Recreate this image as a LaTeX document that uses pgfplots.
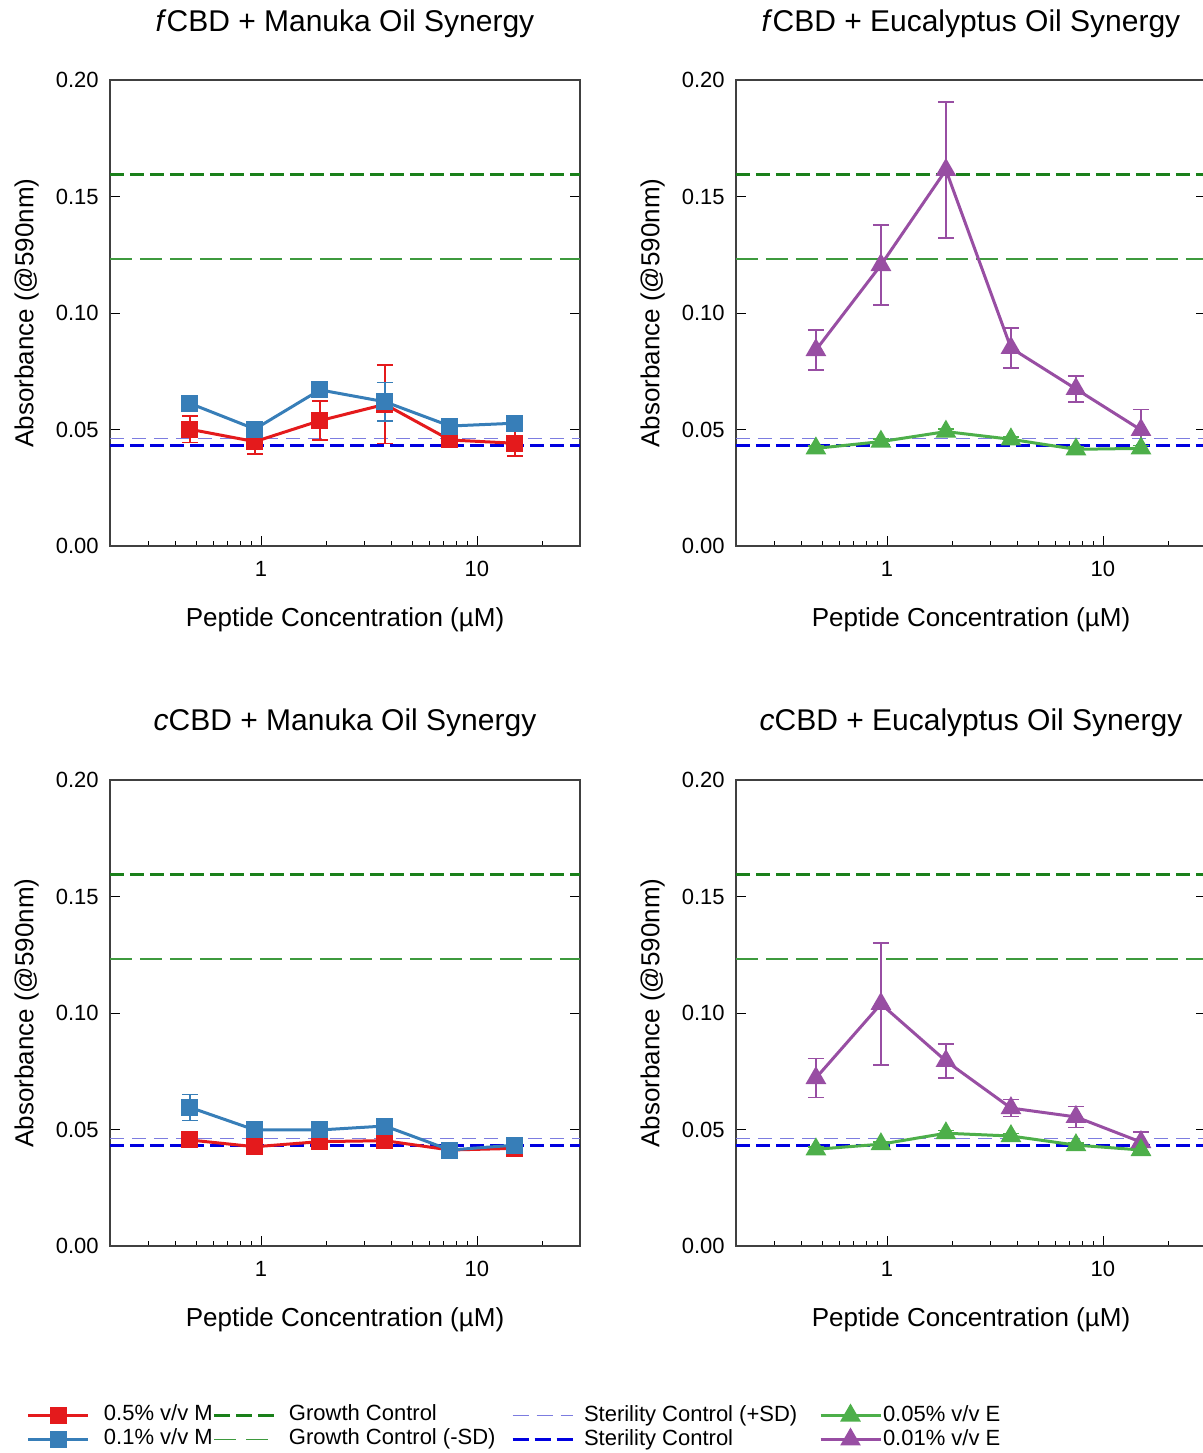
\documentclass[border=0pt]{standalone}
\usepackage{fontspec}
\setmainfont{Liberation Sans}
\usepackage{pgfplots}
\pgfplotsset{compat=1.18}
\definecolor{cRed}{HTML}{E41A1C}
\definecolor{cBlue}{HTML}{377EB8}
\definecolor{cGreen}{HTML}{4DAF4A}
\definecolor{cPurple}{HTML}{984EA3}
\definecolor{gc}{HTML}{1A801A}
\definecolor{gcsd}{HTML}{3E9A3E}
\definecolor{scsd}{HTML}{7C7CE0}
\definecolor{sc}{HTML}{0000E0}
\pgfplotsset{
  every axis/.append style={
    scale only axis, width=235pt, height=233pt,
    xtick={1,10}, xticklabels={1,10},
    minor xtick={0.2,0.3,0.4,0.5,0.6,0.7,0.8,0.9,2,3,4,5,6,7,8,9,20},
    ytick={0,0.05,0.1,0.15,0.2},
    yticklabels={0.00,0.05,0.10,0.15,0.20},
    xtick pos=left,
    tick align=inside,
    major tick length=5pt, minor tick length=2.5pt,
    tick style={black},
    axis line style={black!75, line width=0.6pt},
    tick label style={font=\fontsize{11}{13}\selectfont},
    yticklabel style={inner sep=0pt, xshift=-5.5pt},
    xticklabel style={inner sep=0pt, yshift=-7.5pt},
    title style={font=\fontsize{15}{18}\selectfont, at={(0.5,1)}, anchor=base, yshift=18.5pt},
    xlabel style={at={(axis description cs:0.5,-0.159)}, anchor=center, font=\fontsize{13}{15}\selectfont},
    ylabel style={at={(axis description cs:-0.162,0.5)}, rotate=0, anchor=south, yshift=-6pt, font=\fontsize{13}{15}\selectfont},
    xlabel={Peptide Concentration (µM)},
    ylabel={Absorbance (@590nm)},
    legend style={draw=none, fill=none, inner sep=0pt, outer sep=0pt, anchor=north west,
      row sep=1.5pt, font=\fontsize{11}{13}\selectfont,
      nodes={inner sep=0pt, text height=8pt, text depth=2.5pt}},
    legend cell align=left,
  },
  legend image code/.code={\draw[mark repeat=2,mark phase=2,#1] plot coordinates {(0pt,0pt) (15pt,0pt) (30pt,0pt)};},
}
\begin{document}
\begin{tikzpicture}
% ---------- top left
\begin{axis}[xmode=log, xmin=0.2, xmax=30, ymin=0, ymax=0.2, anchor=south west, at={(55pt,453.5pt)}, title={\textit{f}CBD + Manuka Oil Synergy},
  legend style={at={(-0.1766,-1.8433)}, column sep=7pt}]
\addplot[gc, line width=1.5pt, dash pattern=on 7pt off 3pt, forget plot] coordinates {(0.2,0.1595) (30,0.1595)};
\addplot[gcsd, line width=0.75pt, dash pattern=on 11pt off 4pt, forget plot] coordinates {(0.2,0.1232) (30,0.1232)};
\addplot[scsd, line width=0.8pt, dash pattern=on 7pt off 4pt, forget plot] coordinates {(0.2,0.0462) (30,0.0462)};
\addplot[sc, line width=1.5pt, dash pattern=on 7pt off 3pt, forget plot] coordinates {(0.2,0.0430) (30,0.0430)};
\addplot[cRed, line width=1.5pt, mark=square*, mark size=3.5pt, forget plot,
  error bars/.cd, y dir=both, y explicit, error bar style={line width=0.8pt}, error mark options={rotate=90, mark size=4pt, line width=0.8pt}]
 coordinates {
 (0.46875,0.0501) +- (0,0.0057)
 (0.9375,0.0448) +- (0,0.0053)
 (1.875,0.0538) +- (0,0.0084)
 (3.75,0.0608) +- (0,0.0168)
 (7.5,0.0455) +- (0,0.0015)
 (15,0.0441) +- (0,0.0055)
};
\addplot[cBlue, line width=1.5pt, mark=square*, mark size=3.5pt, forget plot,
  error bars/.cd, y dir=both, y explicit, error bar style={line width=0.8pt}, error mark options={rotate=90, mark size=4pt, line width=0.8pt}]
 coordinates {
 (0.46875,0.0612) +- (0,0.0025)
 (0.9375,0.0502) +- (0,0.0015)
 (1.875,0.0670) +- (0,0.0015)
 (3.75,0.0619) +- (0,0.0083)
 (7.5,0.0515) +- (0,0.0020)
 (15,0.0527) +- (0,0.0025)
};
\addlegendimage{cRed, line width=1.5pt, mark=square*, mark size=3.5pt}
\addlegendentry{0.5\% v/v M}
\addlegendimage{cBlue, line width=1.5pt, mark=square*, mark size=3.5pt}
\addlegendentry{0.1\% v/v M}
\end{axis}
% ---------- top right
\begin{axis}[xmode=log, xmin=0.2, xmax=30, ymin=0, ymax=0.2, anchor=south west, at={(368pt,453.5pt)}, title={\textit{f}CBD + Eucalyptus Oil Synergy},
  legend style={at={(-1.1128,-1.8433)}, column sep=6.5pt}]
\addplot[gc, line width=1.5pt, dash pattern=on 7pt off 3pt, forget plot] coordinates {(0.2,0.1595) (30,0.1595)};
\addplot[gcsd, line width=0.75pt, dash pattern=on 11pt off 4pt, forget plot] coordinates {(0.2,0.1232) (30,0.1232)};
\addplot[scsd, line width=0.8pt, dash pattern=on 7pt off 4pt, forget plot] coordinates {(0.2,0.0462) (30,0.0462)};
\addplot[sc, line width=1.5pt, dash pattern=on 7pt off 3pt, forget plot] coordinates {(0.2,0.0430) (30,0.0430)};
\addplot[cPurple, line width=1.5pt, mark=triangle*, mark size=4.5pt, forget plot,
  error bars/.cd, y dir=both, y explicit, error bar style={line width=0.8pt}, error mark options={rotate=90, mark size=4pt, line width=0.8pt}]
 coordinates {
 (0.46875,0.0841) +- (0,0.0086)
 (0.9375,0.1206) +- (0,0.0172)
 (1.875,0.1614) +- (0,0.0292)
 (3.75,0.0850) +- (0,0.0086)
 (7.5,0.0674) +- (0,0.0056)
 (15,0.0498) +- (0,0.0088)
};
\addplot[cGreen, line width=1.5pt, mark=triangle*, mark size=4.5pt, forget plot,
  error bars/.cd, y dir=both, y explicit, error bar style={line width=0.8pt}, error mark options={rotate=90, mark size=4pt, line width=0.8pt}]
 coordinates {
 (0.46875,0.0419) +- (0,0.0010)
 (0.9375,0.0448) +- (0,0.0010)
 (1.875,0.0491) +- (0,0.0012)
 (3.75,0.0458) +- (0,0.0010)
 (7.5,0.0415) +- (0,0.0010)
 (15,0.0419) +- (0,0.0012)
};
\addlegendimage{gc, line width=1.5pt, dash pattern=on 8pt off 3pt}
\addlegendentry{Growth Control}
\addlegendimage{gcsd, line width=0.9pt, dash pattern=on 11pt off 5pt}
\addlegendentry{Growth Control (-SD)}
\end{axis}
% ---------- bottom left
\begin{axis}[xmode=log, xmin=0.2, xmax=30, ymin=0, ymax=0.2, anchor=south west, at={(55pt,103.5pt)}, title={\textit{c}CBD + Manuka Oil Synergy},
  legend style={at={(0.8532,-0.3412)}, column sep=5pt}]
\addplot[gc, line width=1.5pt, dash pattern=on 7pt off 3pt, forget plot] coordinates {(0.2,0.1595) (30,0.1595)};
\addplot[gcsd, line width=0.75pt, dash pattern=on 11pt off 4pt, forget plot] coordinates {(0.2,0.1232) (30,0.1232)};
\addplot[scsd, line width=0.8pt, dash pattern=on 7pt off 4pt, forget plot] coordinates {(0.2,0.0462) (30,0.0462)};
\addplot[sc, line width=1.5pt, dash pattern=on 7pt off 3pt, forget plot] coordinates {(0.2,0.0430) (30,0.0430)};
\addplot[cRed, line width=1.5pt, mark=square*, mark size=3.5pt, forget plot,
  error bars/.cd, y dir=both, y explicit, error bar style={line width=0.8pt}, error mark options={rotate=90, mark size=4pt, line width=0.8pt}]
 coordinates {
 (0.46875,0.0455) +- (0,0.0015)
 (0.9375,0.0426) +- (0,0.0020)
 (1.875,0.0448) +- (0,0.0010)
 (3.75,0.0452) +- (0,0.0030)
 (7.5,0.0412) +- (0,0.0010)
 (15,0.0419) +- (0,0.0020)
};
\addplot[cBlue, line width=1.5pt, mark=square*, mark size=3.5pt, forget plot,
  error bars/.cd, y dir=both, y explicit, error bar style={line width=0.8pt}, error mark options={rotate=90, mark size=4pt, line width=0.8pt}]
 coordinates {
 (0.46875,0.0595) +- (0,0.0056)
 (0.9375,0.0498) +- (0,0.0015)
 (1.875,0.0498) +- (0,0.0015)
 (3.75,0.0515) +- (0,0.0020)
 (7.5,0.0412) +- (0,0.0015)
 (15,0.0433) +- (0,0.0015)
};
\addlegendimage{scsd, line width=0.8pt, dash pattern=on 8pt off 4pt}
\addlegendentry{Sterility Control (+SD)}
\addlegendimage{sc, line width=1.5pt, dash pattern=on 8pt off 3pt}
\addlegendentry{Sterility Control}
\end{axis}
% ---------- bottom right
\begin{axis}[xmode=log, xmin=0.2, xmax=30, ymin=0, ymax=0.2, anchor=south west, at={(368pt,103.5pt)}, title={\textit{c}CBD + Eucalyptus Oil Synergy},
  legend style={at={(0.1766,-0.3412)}, column sep=0.5pt}]
\addplot[gc, line width=1.5pt, dash pattern=on 7pt off 3pt, forget plot] coordinates {(0.2,0.1595) (30,0.1595)};
\addplot[gcsd, line width=0.75pt, dash pattern=on 11pt off 4pt, forget plot] coordinates {(0.2,0.1232) (30,0.1232)};
\addplot[scsd, line width=0.8pt, dash pattern=on 7pt off 4pt, forget plot] coordinates {(0.2,0.0462) (30,0.0462)};
\addplot[sc, line width=1.5pt, dash pattern=on 7pt off 3pt, forget plot] coordinates {(0.2,0.0430) (30,0.0430)};
\addplot[cPurple, line width=1.5pt, mark=triangle*, mark size=4.5pt, forget plot,
  error bars/.cd, y dir=both, y explicit, error bar style={line width=0.8pt}, error mark options={rotate=90, mark size=4pt, line width=0.8pt}]
 coordinates {
 (0.46875,0.0721) +- (0,0.0084)
 (0.9375,0.1039) +- (0,0.0262)
 (1.875,0.0794) +- (0,0.0073)
 (3.75,0.0592) +- (0,0.0036)
 (7.5,0.0554) +- (0,0.0045)
 (15,0.0446) +- (0,0.0043)
};
\addplot[cGreen, line width=1.5pt, mark=triangle*, mark size=4.5pt, forget plot,
  error bars/.cd, y dir=both, y explicit, error bar style={line width=0.8pt}, error mark options={rotate=90, mark size=4pt, line width=0.8pt}]
 coordinates {
 (0.46875,0.0415) +- (0,0.0010)
 (0.9375,0.0437) +- (0,0.0010)
 (1.875,0.0484) +- (0,0.0012)
 (3.75,0.0472) +- (0,0.0010)
 (7.5,0.0433) +- (0,0.0010)
 (15,0.0412) +- (0,0.0012)
};
\addlegendimage{cGreen, line width=1.5pt, mark=triangle*, mark size=4.5pt}
\addlegendentry{0.05\% v/v E}
\addlegendimage{cPurple, line width=1.5pt, mark=triangle*, mark size=4.5pt}
\addlegendentry{0.01\% v/v E}
\end{axis}
\pgfresetboundingbox
\useasboundingbox (0,0) rectangle (601.5pt,726.5pt);
\end{tikzpicture}
\end{document}
